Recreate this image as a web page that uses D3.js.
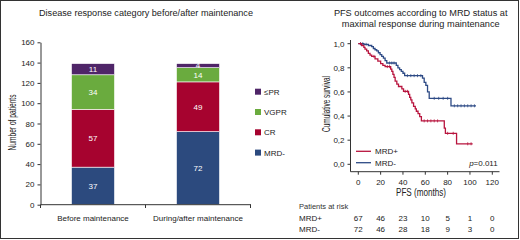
<!DOCTYPE html>
<html>
<head>
<meta charset="utf-8">
<script src="https://cdn.jsdelivr.net/npm/d3@7"></script>
<style>
  html, body { margin: 0; padding: 0; background: #fff; }
  svg { display: block; }
  text { font-family: "Liberation Sans", Arial, Helvetica, sans-serif; fill: #222; }
  .narrow { font-family: "Liberation Sans Narrow", "Liberation Sans", sans-serif; }
</style>
</head>
<body>
<svg id="chart" width="520" height="240"></svg>
<script>
// ---------- Data: left panel (stacked bars) ----------
const categories = ["Before maintenance", "During/after maintenance"];
const responseKeys = ["MRD-", "CR", "VGPR", "≤PR"];
const mrdNeg = [37, 72];
const cr = [57, 49];
const vgpr = [34, 14];
const lePR = [11, 4];
const yTicksLeft = [0, 20, 40, 60, 80, 100, 120, 140, 160];
const legendOrder = ["≤PR", "VGPR", "CR", "MRD-"];

// ---------- Data: right panel (Kaplan-Meier) ----------
const kmPlusT = [0, 3, 5, 6, 7.5, 9, 10.5, 12, 15, 17.5, 20, 22, 24, 29, 30, 31, 32, 33, 34.5, 36, 39, 40.5, 45, 46, 47, 48, 49.5, 51, 52, 53.5, 55, 56.5, 77, 78, 88, 102.4];
const kmPlusS = [1.0, 0.985, 0.97, 0.955, 0.94, 0.92, 0.905, 0.895, 0.875, 0.855, 0.835, 0.82, 0.81, 0.79, 0.77, 0.745, 0.72, 0.69, 0.665, 0.645, 0.625, 0.605, 0.58, 0.555, 0.535, 0.51, 0.48, 0.46, 0.44, 0.42, 0.395, 0.36, 0.30, 0.257, 0.17, 0.17];
const kmMinusT = [0, 5, 9, 12, 13.5, 15, 16.5, 18, 19.5, 21, 22.5, 24, 25.5, 34, 35.5, 37, 38.5, 40, 41.5, 57.5, 59, 60.5, 62, 63.5, 83, 105.4];
const kmMinusS = [1.0, 0.995, 0.985, 0.975, 0.96, 0.95, 0.94, 0.925, 0.91, 0.895, 0.88, 0.86, 0.84, 0.82, 0.80, 0.785, 0.77, 0.755, 0.735, 0.715, 0.68, 0.655, 0.60, 0.547, 0.485, 0.485];
const censorPlusT = [2, 14, 26, 28, 42, 44, 59, 62, 65, 68, 71, 80, 85, 98, 101];
const censorMinusT = [2, 4, 7, 28, 30, 32, 44, 47, 50, 53, 56, 68, 72, 76, 80, 86, 89, 92, 95, 98, 101, 104];
const xTicksKM = [0, 20, 40, 60, 80, 100, 120];
const yTicksKM = [0, 0.2, 0.4, 0.6, 0.8, 1.0];
const riskGroups = ["MRD+", "MRD-"];
const riskPlus = [67, 46, 23, 10, 5, 1, 0];
const riskMinus = [72, 46, 28, 18, 9, 3, 0];
const pValueText = "=0.011";

// ---------- Styles ----------
const colors = { "MRD-": "#2c4a7e", "CR": "#a6032f", "VGPR": "#6aab3e", "≤PR": "#4f2568" };
const kmColors = { "MRD+": "#b8143e", "MRD-": "#2d4a85" };

const svg = d3.select("#chart");

// frame
svg.append("rect").attr("x", 0.5).attr("y", 0.5).attr("width", 518).attr("height", 238)
  .attr("fill", "none").attr("stroke", "#333").attr("stroke-width", 1);

// ================= LEFT PANEL =================
const x = d3.scaleBand().domain(categories).range([40.5, 250.5]).padding(0);
const y = d3.scaleLinear().domain([0, 160]).range([204.7, 42.3]);
const barW = 43;

svg.append("text").attr("x", 146).attr("y", 15.5).attr("text-anchor", "middle")
  .attr("font-size", 9.2).attr("textLength", 214).attr("lengthAdjust", "spacingAndGlyphs")
  .text("Disease response category before/after maintenance");

// stacked data
const rows = categories.map((c, i) => ({ cat: c, "MRD-": mrdNeg[i], "CR": cr[i], "VGPR": vgpr[i], "≤PR": lePR[i] }));
const stack = d3.stack().keys(responseKeys)(rows);

const gBars = svg.append("g");
stack.forEach(layer => {
  layer.forEach(d => {
    const cx = x(d.data.cat) + x.bandwidth() / 2;
    gBars.append("rect")
      .attr("x", cx - barW / 2).attr("y", y(d[1]))
      .attr("width", barW).attr("height", y(d[0]) - y(d[1]))
      .attr("fill", colors[layer.key])
      .attr("stroke", "#fff").attr("stroke-width", 0.6);
  });
});
stack.forEach(layer => {
  layer.forEach(d => {
    const cx = x(d.data.cat) + x.bandwidth() / 2;
    gBars.append("text")
      .attr("x", cx).attr("y", (y(d[0]) + y(d[1])) / 2 + 2.8)
      .attr("text-anchor", "middle").attr("font-size", 8)
      .style("fill", "#fff").text(d[1] - d[0]);
  });
});

// y axis
const yAxis = svg.append("g").attr("transform", "translate(40.5,0)")
  .call(d3.axisLeft(y).tickValues(yTicksLeft).tickSize(3).tickPadding(3).tickSizeOuter(0));
yAxis.selectAll("text").attr("font-size", 8).style("font-family", "'Liberation Sans', Arial, sans-serif").style("fill", "#222");
yAxis.select(".domain").attr("stroke", "#333");
yAxis.selectAll(".tick line").attr("stroke", "#333");

// x axis (ticks at band boundaries)
const gx = svg.append("g");
gx.append("line").attr("x1", 40.5).attr("x2", 251).attr("y1", 204.7).attr("y2", 204.7).attr("stroke", "#333");
[x(categories[0]), x(categories[1]), x(categories[1]) + x.bandwidth()].forEach(v => {
  gx.append("line").attr("x1", v).attr("x2", v).attr("y1", 204.7).attr("y2", 208).attr("stroke", "#333");
});
categories.forEach(c => {
  gx.append("text").attr("x", x(c) + x.bandwidth() / 2).attr("y", 221)
    .attr("text-anchor", "middle").attr("font-size", 8).text(c);
});

svg.append("text").attr("class", "narrow")
  .attr("transform", "translate(15.5,122.5) rotate(-90)")
  .attr("text-anchor", "middle").attr("font-size", 10)
  .attr("textLength", 56).attr("lengthAdjust", "spacingAndGlyphs").text("Number of patients");

// legend
const lg = svg.append("g");
legendOrder.forEach((k, i) => {
  const cy = 91.7 + i * 20.3;
  lg.append("rect").attr("x", 255).attr("y", cy - 3).attr("width", 6).attr("height", 6).attr("fill", colors[k]);
  lg.append("text").attr("x", 264).attr("y", cy + 3).attr("font-size", 8).text(k);
});

// ================= RIGHT PANEL =================
const xK = d3.scaleLinear().domain([0, 120]).range([358.3, 492.3]);
const yK = d3.scaleLinear().domain([0, 1]).range([164.3, 43.7]);
const axisX0 = 350.5, axisY0 = 171.7;

const tt = svg.append("text").attr("text-anchor", "middle").attr("font-size", 9.2);
tt.append("tspan").attr("x", 420.7).attr("y", 15.5).text("PFS outcomes according to MRD status at");
tt.append("tspan").attr("x", 420.7).attr("y", 27).text("maximal response during maintenance");

// axes
const gk = svg.append("g");
gk.append("line").attr("x1", axisX0).attr("x2", axisX0).attr("y1", 40).attr("y2", axisY0).attr("stroke", "#333");
gk.append("line").attr("x1", axisX0).attr("x2", 499.5).attr("y1", axisY0).attr("y2", axisY0).attr("stroke", "#333");
yTicksKM.forEach(v => {
  gk.append("line").attr("x1", axisX0 - 3).attr("x2", axisX0).attr("y1", yK(v)).attr("y2", yK(v)).attr("stroke", "#333");
  gk.append("text").attr("x", axisX0 - 6).attr("y", yK(v) + 2.8).attr("text-anchor", "end")
    .attr("font-size", 8).text(d3.format(".1f")(v).replace(".", ","));
});
xTicksKM.forEach(v => {
  gk.append("line").attr("x1", xK(v)).attr("x2", xK(v)).attr("y1", axisY0).attr("y2", axisY0 + 3).attr("stroke", "#333");
  gk.append("text").attr("x", xK(v)).attr("y", 185).attr("text-anchor", "middle").attr("font-size", 8).text(v);
});
svg.append("text").attr("class", "narrow").attr("x", 421).attr("y", 196)
  .attr("text-anchor", "middle").attr("font-size", 10)
  .attr("textLength", 50).attr("lengthAdjust", "spacingAndGlyphs").text("PFS (months)");
svg.append("text").attr("class", "narrow")
  .attr("transform", "translate(330,104) rotate(-90)")
  .attr("text-anchor", "middle").attr("font-size", 10)
  .attr("textLength", 56).attr("lengthAdjust", "spacingAndGlyphs").text("Cumulative survival");

// curves
const line = d3.line().curve(d3.curveStepAfter).x(d => xK(d[0])).y(d => yK(d[1]));
function stepAt(ts, ss, t) {
  let s = ss[0];
  for (let i = 0; i < ts.length; i++) { if (ts[i] <= t) s = ss[i]; }
  return s;
}
function drawCurve(ts, ss, cens, col) {
  const pts = ts.map((t, i) => [t, ss[i]]);
  svg.append("path").attr("d", line(pts)).attr("fill", "none")
    .attr("stroke", col).attr("stroke-width", 1.3).attr("stroke-linejoin", "miter");
  cens.forEach(t => {
    const s = stepAt(ts, ss, t);
    svg.append("line").attr("x1", xK(t)).attr("x2", xK(t))
      .attr("y1", yK(s) - 1.5).attr("y2", yK(s) + 1.5).attr("stroke", col).attr("stroke-width", 0.8);
  });
}
drawCurve(kmMinusT, kmMinusS, censorMinusT, kmColors["MRD-"]);
drawCurve(kmPlusT, kmPlusS, censorPlusT, kmColors["MRD+"]);

// in-plot legend
riskGroups.forEach((g, i) => {
  const cy = 151.3 + i * 11.4;
  svg.append("line").attr("x1", 356).attr("x2", 371).attr("y1", cy).attr("y2", cy)
    .attr("stroke", kmColors[g]).attr("stroke-width", 1.3);
  svg.append("text").attr("x", 375).attr("y", cy + 2.9).attr("font-size", 8).text(g);
});
const pt = svg.append("text").attr("x", 497.7).attr("y", 165.6).attr("text-anchor", "end").attr("font-size", 8);
pt.append("tspan").attr("font-style", "italic").text("p");
pt.append("tspan").text(pValueText);

// risk table
svg.append("text").attr("x", 299).attr("y", 209.3).attr("font-size", 7.5).style("fill", "#333").text("Patients at risk");
[riskPlus, riskMinus].forEach((arr, r) => {
  const by = 221 + r * 11.4;
  svg.append("text").attr("x", 299).attr("y", by).attr("font-size", 8).text(riskGroups[r]);
  arr.forEach((v, i) => {
    svg.append("text").attr("x", xK(xTicksKM[i])).attr("y", by).attr("text-anchor", "middle")
      .attr("font-size", 8).text(v);
  });
});
</script>
</body>
</html>
